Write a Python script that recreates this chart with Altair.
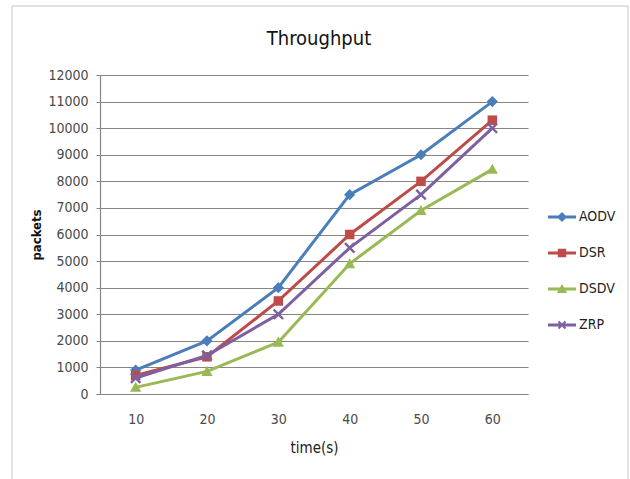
import altair as alt
import pandas as pd

# ---- data ----
times = ["10", "20", "30", "40", "50", "60"]
series = ["AODV", "DSR", "DSDV", "ZRP"]
aodv = [900, 2000, 4000, 7500, 9000, 11000]
dsr = [700, 1400, 3500, 6000, 8000, 10300]
dsdv = [250, 850, 1950, 4900, 6900, 8450]
zrp = [600, 1450, 3000, 5500, 7500, 10000]
y_ticks = list(range(0, 12001, 1000))

colors = ["#4a7ebb", "#be4b48", "#98b954", "#7d60a0"]

# marker shapes (unit box -1..1)
marker_paths = [
    "M0,-1L1,0L0,1L-1,0Z",
    "M-0.85,-0.85H0.85V0.85H-0.85Z",
    "M0,-1L1,0.8H-1Z",
    "M-1,-0.7L-0.7,-1L0,-0.3L0.7,-1L1,-0.7L0.3,0L1,0.7L0.7,1L0,0.3L-0.7,1L-1,0.7L-0.3,0Z",
]
bar = "M-1,-0.1H1V0.1H-1Z"
legend_paths = [
    bar + "M0,-0.36L0.36,0L0,0.36L-0.36,0Z",
    bar + "M-0.3,-0.3H0.3V0.3H-0.3Z",
    bar + "M0,-0.36L0.36,0.28H-0.36Z",
    bar + "M-0.3,-0.2L-0.2,-0.3L0,-0.1L0.2,-0.3L0.3,-0.2L0.1,0L0.3,0.2L0.2,0.3L0,0.1L-0.2,0.3L-0.3,0.2L-0.1,0Z",
]

values = {"AODV": aodv, "DSR": dsr, "DSDV": dsdv, "ZRP": zrp}
rows = []
for s in series:
    for t, v in zip(times, values[s]):
        rows.append({"time": t, "packets": v, "series": s})
df = pd.DataFrame(rows)

FONT = "Liberation Sans Narrow, DejaVu Sans Condensed, sans-serif"
GRID = "#868686"

x_enc = alt.X(
    "time:O",
    sort=times,
    axis=alt.Axis(
        title="time(s)",
        labelAngle=0,
        ticks=False,
        domainColor=GRID,
        domainWidth=1.2,
        labelFont=FONT,
        labelFontSize=14,
        labelColor="#4a4a4a",
        labelPadding=18,
        titleFont=FONT,
        titleFontSize=15,
        titleFontWeight="normal",
        titleColor="#222222",
        titlePadding=14,
    ),
)
y_enc = alt.Y(
    "packets:Q",
    scale=alt.Scale(domain=[0, 12000], nice=False),
    axis=alt.Axis(
        title="packets",
        values=y_ticks,
        format="d",
        grid=True,
        gridColor=GRID,
        gridWidth=1.2,
        domainColor=GRID,
        domainWidth=1.2,
        tickColor=GRID,
        tickSize=4,
        labelFont=FONT,
        labelFontSize=14,
        labelColor="#4a4a4a",
        labelPadding=8,
        titleFont=FONT,
        titleFontSize=13,
        titleFontWeight="bold",
        titleColor="#111111",
        titlePadding=4,
    ),
)

base = alt.Chart(df)

series_layers = []
for s, c, path in zip(series, colors, marker_paths):
    sub = base.transform_filter(alt.datum.series == s)
    series_layers.append(
        sub.mark_line(strokeWidth=3, color=c).encode(x=x_enc, y=y_enc)
    )
    series_layers.append(
        sub.mark_point(filled=True, size=125, opacity=1, shape=path, color=c).encode(
            x=x_enc, y=y_enc
        )
    )

legend_layer = base.transform_filter("false").mark_point(filled=True, opacity=1).encode(
    color=alt.Color(
        "series:N",
        scale=alt.Scale(domain=series, range=colors),
        legend=alt.Legend(title=None),
    ),
    shape=alt.Shape(
        "series:N",
        scale=alt.Scale(domain=series, range=legend_paths),
        legend=alt.Legend(title=None),
    ),
)

frame = alt.Chart(alt.Data(values=[{"k": 1}])).mark_rect(
    fillOpacity=0, stroke="#c4c4c4", strokeWidth=1
).encode(
    x=alt.value(-88), x2=alt.value(528), y=alt.value(-69), y2=alt.value(430)
)

chart = (
    alt.layer(frame, *series_layers, legend_layer)
    .properties(
        width=428,
        height=319,
        padding={"left": 100, "top": 75, "right": 102, "bottom": 85},
        autosize=alt.AutoSizeParams(type="none"),
        background="white",
        title=alt.TitleParams(
            "Throughput",
            font=FONT,
            fontSize=20,
            fontWeight="normal",
            color="#111111",
            anchor="middle",
            offset=-43,
            dx=5,
        ),
    )
    .configure_view(strokeWidth=0)
    .configure_legend(
        orient="none",
        legendX=448,
        legendY=128,
        padding=0,
        symbolSize=784,
        symbolStrokeWidth=0,
        rowPadding=15,
        labelFont=FONT,
        labelFontSize=14,
        labelColor="#222222",
        labelOffset=3,
    )
)

chart.save("out.html", embed_options={"renderer": "svg", "actions": False})
